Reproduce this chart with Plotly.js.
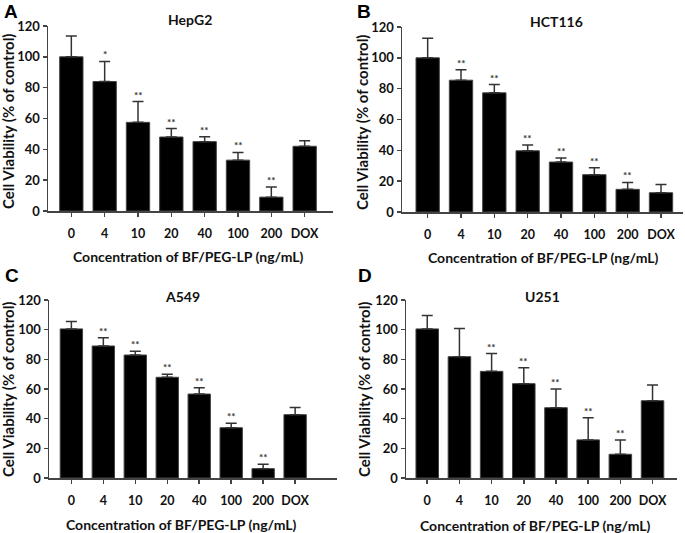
<!DOCTYPE html>
<html>
<head>
<meta charset="utf-8">
<script src="https://cdn.plot.ly/plotly-3.0.1.min.js"></script>
<style>html,body{margin:0;padding:0;background:#fff;}#chart{width:685px;height:533px;}</style>
</head>
<body>
<div id="chart"></div>
<script>
const categories = ['0', '4', '10', '20', '40', '100', '200', 'DOX'];
const yTicks = [0, 20, 40, 60, 80, 100, 120];

const hepg2 = [100, 84, 57.5, 48, 45, 33, 9, 42];
const hepg2Err = [13.5, 13, 13.5, 5.5, 3.2, 5, 6.5, 3.5];
const hepg2Sig = ['', '*', '**', '**', '**', '**', '**', ''];

const hct116 = [100, 85.5, 77.3, 39.7, 32.4, 24.2, 14.7, 12.5];
const hct116Err = [12.7, 6.7, 5.4, 3.7, 2.6, 4.5, 4.5, 5.4];
const hct116Sig = ['', '**', '**', '**', '**', '**', '**', ''];

const a549 = [100.5, 89, 82.9, 67.9, 56.6, 33.9, 6.3, 42.7];
const a549Err = [5, 5.6, 2.5, 2, 4.3, 3, 2.9, 4.9];
const a549Sig = ['', '**', '**', '**', '**', '**', '**', ''];

const u251 = [100.5, 81.8, 71.9, 63.6, 47.4, 25.7, 16, 52.1];
const u251Err = [9, 19, 12, 10.8, 12.6, 15, 9.7, 10.6];
const u251Sig = ['', '', '**', '**', '**', '**', '**', ''];

const panelNames = ['HepG2', 'HCT116', 'A549', 'U251'];
const panelLetters = ['A', 'B', 'C', 'D'];
const xTitle = 'Concentration of BF/PEG-LP (ng/mL)';
const yTitle = 'Cell Viability (% of control)';

const W = 685, H = 533;
const px = x => x / W;
const py = y => 1 - y / H;
const FONT = 'Lato, "Open Sans", sans-serif';

const series = [
  {v: hepg2, e: hepg2Err, s: hepg2Sig},
  {v: hct116, e: hct116Err, s: hct116Sig},
  {v: a549, e: a549Err, s: a549Sig},
  {v: u251, e: u251Err, s: u251Sig}
];

const geo = [
  {l: 48, r: 333, t: 26, b: 211, xr: [-0.7, 7.85], title: [190, 20], xt: [188, 256], yt: [8, 122], letter: [11, 12]},
  {l: 402, r: 683, t: 27, b: 212, xr: [-0.77, 7.66], title: [556, 21], xt: [543, 257], yt: [362, 123], letter: [364, 12]},
  {l: 49, r: 337, t: 300, b: 478, xr: [-0.7, 8.31], title: [183, 296], xt: [181, 524], yt: [8, 390], letter: [12, 275]},
  {l: 406, r: 677, t: 300, b: 478, xr: [-0.66, 7.76], title: [542, 296], xt: [535, 525], yt: [364, 390], letter: [365, 275]}
];

const traces = [];
const layout = {
  width: W, height: H, autosize: false,
  margin: {l: 0, r: 0, t: 0, b: 0},
  paper_bgcolor: '#fff', plot_bgcolor: '#fff',
  showlegend: false,
  annotations: []
};

series.forEach((sd, i) => {
  const n = i + 1;
  const xa = n === 1 ? 'x' : 'x' + n;
  const ya = n === 1 ? 'y' : 'y' + n;
  const g = geo[i];
  traces.push({
    type: 'bar', x: categories, y: sd.v, xaxis: xa, yaxis: ya,
    width: 0.7,
    marker: {color: '#000', line: {color: '#444', width: 1}},
    error_y: {type: 'data', array: sd.e, arrayminus: sd.e.map(() => 0), symmetric: false,
              color: '#333', thickness: 1.5, width: 5.5},
    hoverinfo: 'skip'
  });
  const xKey = n === 1 ? 'xaxis' : 'xaxis' + n;
  const yKey = n === 1 ? 'yaxis' : 'yaxis' + n;
  layout[xKey] = {
    domain: [px(g.l), px(g.r)], anchor: ya, type: 'category', range: g.xr,
    showline: true, linecolor: '#444', linewidth: 1.5, ticks: 'outside', ticklen: 4, tickwidth: 1.5, tickcolor: '#444',
    tickangle: 0, ticklabelstandoff: 6, showgrid: false, zeroline: false, fixedrange: true,
    tickfont: {family: FONT, size: 12.5, color: '#111', weight: 'bold'}
  };
  layout[yKey] = {
    domain: [py(g.b), py(g.t)], anchor: xa, range: [0, 120], tickvals: yTicks,
    showline: true, linecolor: '#444', linewidth: 1.5, ticks: 'outside', ticklen: 4, tickwidth: 1.5, tickcolor: '#444',
    showgrid: false, zeroline: false, fixedrange: true,
    tickfont: {family: FONT, size: 13, color: '#111', weight: 'bold'}
  };
  layout.annotations.push({xref: 'paper', yref: 'paper', x: px(g.title[0]), y: py(g.title[1]),
    text: panelNames[i], showarrow: false, xanchor: 'center', yanchor: 'middle',
    font: {family: FONT, size: 14, color: '#111', weight: 'bold'}});
  layout.annotations.push({xref: 'paper', yref: 'paper', x: px(g.xt[0]), y: py(g.xt[1]),
    text: xTitle, showarrow: false, xanchor: 'center', yanchor: 'middle',
    font: {family: FONT, size: 14, color: '#111', weight: 'bold'}});
  layout.annotations.push({xref: 'paper', yref: 'paper', x: px(g.yt[0]), y: py(g.yt[1]),
    text: yTitle, showarrow: false, xanchor: 'center', yanchor: 'middle', textangle: -90,
    font: {family: FONT, size: 15, color: '#111', weight: 'bold'}});
  layout.annotations.push({xref: 'paper', yref: 'paper', x: px(g.letter[0]), y: py(g.letter[1]),
    text: panelLetters[i], showarrow: false, xanchor: 'center', yanchor: 'middle',
    font: {family: '"Liberation Sans", Arial, sans-serif', size: 19, color: '#000', weight: 'bold'}});
  sd.s.forEach((s, k) => {
    if (!s) return;
    layout.annotations.push({xref: xa, yref: ya, x: k, y: sd.v[k] + sd.e[k],
      text: s, showarrow: false, xanchor: 'center', yanchor: 'bottom', yshift: -1,
      font: {family: FONT, size: 10, color: '#333', weight: 'bold'}});
  });
});

Plotly.newPlot('chart', traces, layout, {staticPlot: true, displayModeBar: false});
</script>
</body>
</html>
